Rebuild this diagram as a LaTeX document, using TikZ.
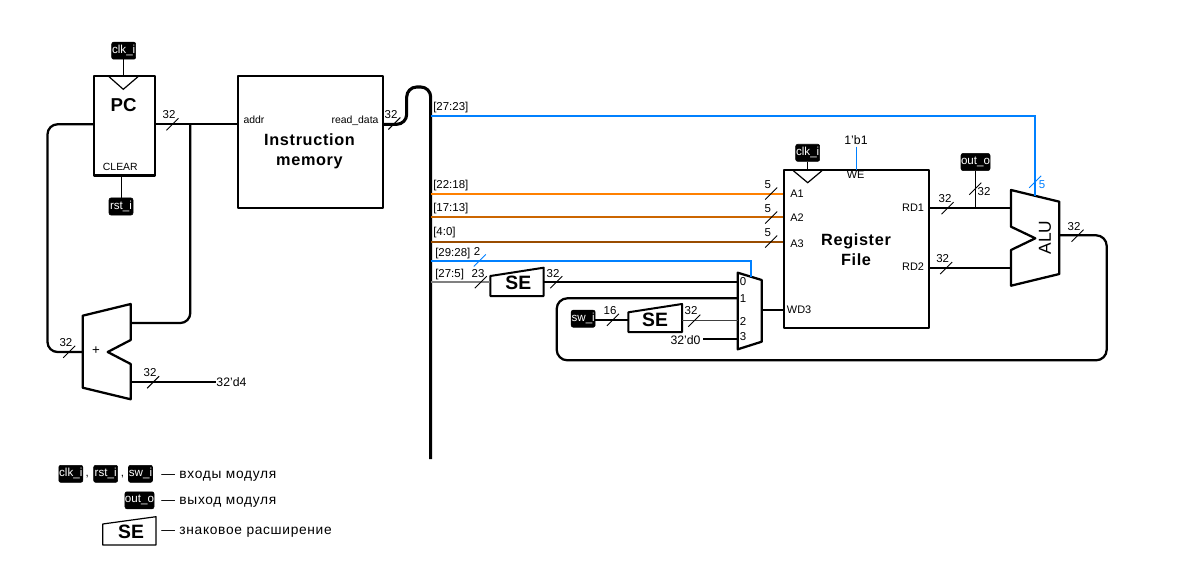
\documentclass[tikz,border=0pt]{standalone}
\usepackage{fontspec}
\setmainfont{Liberation Sans}
\newcommand{\fs}[1]{\fontsize{#1}{#1}\selectfont}
\newcommand{\tickm}[2]{\draw[slash] (#1-6,#2+6) -- (#1+6,#2-6);}
\newcommand{\tickb}[2]{\draw[slash,cblue] (#1-6,#2+6) -- (#1+6,#2-6);}
\definecolor{cblue}{HTML}{0080FF}
\definecolor{corA}{HTML}{FF8000}
\definecolor{corB}{HTML}{CC6600}
\definecolor{corC}{HTML}{994C00}
\definecolor{cgray}{HTML}{808080}
\tikzset{
  x=0.75pt,y=-0.75pt,
  wire/.style={line width=1.7pt,black},
  bus/.style={line width=2.3pt,black,rounded corners=7.5pt},
  thinw/.style={line width=0.75pt,black},
  slash/.style={line width=0.7pt,black},
  blk/.style={draw=black,line width=1.7pt,fill=white,line join=round},
  lbl/.style={inner sep=0pt,font=\fs{8.6},text=black,yshift=-0.5pt},
  pin/.style={inner sep=0pt,font=\fs{8.2}},
  tag/.style={fill=black,draw=black,rounded corners=1.5pt,text=white,inner sep=0pt,font=\fs{8.7},minimum height=12.8pt},
  title/.style={inner sep=0pt,font=\fs{12.2}\bfseries\addfontfeature{LetterSpace=4},align=center},
  setext/.style={inner sep=0pt,font=\fs{14.5}\bfseries},
  legend/.style={inner sep=0pt,font=\fs{10.3}\addfontfeature{LetterSpace=5},anchor=west,yshift=-1.5pt},
}
\begin{document}
\begin{tikzpicture}
\useasboundingbox (0,0) rectangle (1198,588);
\fill[white] (0,0) rectangle (1198,588);
% named levels
\coordinate (yPC) at (0,124.3);
\coordinate (yFB) at (0,352);
\coordinate (yAddB) at (0,323);
\coordinate (yFour) at (0,382.3);
\coordinate (xBus) at (430.7,0);
\coordinate (xJ) at (190.3,0);
% blocks
\node[blk,minimum width=45.5pt,minimum height=74.7pt,inner sep=0pt] (pc) at (124.3,125.8) {};
\node[blk,minimum width=108.3pt,minimum height=99pt,inner sep=0pt] (im) at (310.5,142.3) {};
\node[blk,minimum width=108.5pt,minimum height=119pt,inner sep=0pt] (rf) at (856.3,249) {};
\coordinate (rfA1) at (rf.west |- 0,193.7);
\coordinate (rfA2) at (rf.west |- 0,217.3);
\coordinate (rfA3) at (rf.west |- 0,241.7);
% tags
\node[tag,minimum width=18pt] (clkA) at (123.7,50.7) {clk\_i};
\node[tag,minimum width=18pt] (rstA) at (121,206.5) {rst\_i};
\node[tag,minimum width=18pt] (clkB) at (807.7,152.8) {clk\_i};
\node[tag,minimum width=21.7pt] (outA) at (975.5,162) {out\_o};
\node[tag,minimum width=18pt] (swA) at (583.2,318.7) {sw\_i};
% text-only endpoints
\node[lbl,font=\fs{9.2}] (d4) at (231.5,381.5) {32'd4};
\node[lbl,font=\fs{9.2}] (d0) at (685.5,339.2) {32'd0};
\node[lbl,font=\fs{9.2}] (b1) at (856,139.2) {1'b1};
% polygon blocks
\draw[blk] (82.7,315.7) coordinate (addA) -- (130.7,304) -- (130.7,340) -- (107.7,352) -- (130.7,364) -- (130.7,399.3) -- (82.7,387.7) -- cycle;
\coordinate (addR1) at (130.7,323);
\coordinate (addR2) at (130.7,382.3);
\coordinate (addL) at (82.7,352);
\draw[blk] (1011,190) -- (1059.3,201.7) -- (1059.3,274) -- (1011,285.7) -- (1011,250) -- (1035.3,238.3) -- (1011,226.7) -- cycle;
\coordinate (aluA) at (1011,208);
\coordinate (aluB) at (1011,268);
\coordinate (aluOut) at (1059.3,235.3);
\coordinate (aluTop) at (1035.3,195.7);
\draw[blk] (737.7,272.7) -- (761.7,280) -- (761.7,341.7) -- (737.7,349.3) -- cycle;
\coordinate (mux0) at (737.7,282.3);
\coordinate (mux1) at (737.7,298.3);
\coordinate (mux2) at (737.7,320.7);
\coordinate (mux3) at (737.7,338.7);
\coordinate (muxOut) at (761.7,309.7);
\coordinate (muxTop) at (751,276.7);
\draw[blk,line width=1.5pt] (490.3,276) -- (543.7,267.7) -- (543.7,296) -- (490.3,296) -- cycle;
\coordinate (seAin) at (490.3,282.3);
\coordinate (seAout) at (543.7,282.3);
\draw[blk,line width=1.5pt] (628.3,312.3) -- (682,304) -- (682,332) -- (628.3,332) -- cycle;
\coordinate (seBin) at (628.3,319.7);
\coordinate (seBout) at (682,320.7);
\draw[line width=0.9pt,black,line join=round] (102.7,524) -- (156,516.7) -- (156,545) -- (102.7,545) -- cycle;
% clock triangles
\draw[line width=0.9pt] (109,76.7) -- (123.3,89.3) -- (138,76.7);
\draw[line width=0.9pt] (793.3,170.7) -- (807.7,182.7) -- (822,170.7);
% connectors
\draw[thinw] (clkA.south) -- (clkA.south |- pc.north);
\draw[thinw] (rstA.north) -- (rstA.north |- pc.south);
\draw[thinw] (clkB.south) -- (clkB.south |- rf.north);
\draw[cblue,line width=0.85pt] (b1.south -| 856.3,0) ++(0,2) -- (856.3,169.7);
\draw[wire] (pc.east |- yPC) -- (im.west |- yPC);
\draw[wire,rounded corners=7.5pt] (pc.west |- yPC) -- (47.5,124.3) -- (47.5,352) -- (addL);
\draw[wire,rounded corners=7.5pt] (xJ |- yPC) -- (xJ |- yAddB) -- (addR1);
\draw[wire] (addR2) -- (d4.west |- addR2);
\draw[bus] (im.east |- yPC) -- (406.7,124.3) -- (406.7,87) -- (430.7,87) -- (430.7,459);
\draw[wire,cblue] (xBus |- 0,116.3) -- (1035.3,116.3) -- (aluTop);
\draw[wire,corA] (xBus |- rfA1) -- (rfA1);
\draw[wire,corB] (xBus |- rfA2) -- (rfA2);
\draw[wire,corC] (xBus |- rfA3) -- (rfA3);
\draw[wire,cblue] (xBus |- 0,261) -- (751,261) -- (muxTop);
\draw[wire,cgray] (xBus |- seAin) -- (seAin);
\draw[wire] (seAout) -- (mux0);
\draw[wire,rounded corners=8pt] (mux1) -- (556.7,298.3) -- (556.7,360.3) -- (1106.7,360.3) -- (1106.7,235.3) -- (aluOut);
\draw[wire] (swA.east |- seBin) -- (seBin);
\draw[line width=1pt,black!75] (seBout) -- (mux2);
\draw[wire] (703.3,338.7) -- (mux3);
\draw[wire] (muxOut) -- (rf.west |- muxOut);
\draw[wire] (rf.east |- aluA) -- (aluA);
\draw[wire] (rf.east |- aluB) -- (aluB);
\draw[thinw] (outA.south) -- (outA.south |- aluA);
% ticks
\tickm{172.5}{124.3}
\tickm{394.4}{123.5}
\tickm{69.2}{351.8}
\tickm{153.2}{382.2}
\tickm{771.2}{193.5}
\tickm{771.2}{217.5}
\tickm{771.2}{241.5}
\tickb{479.8}{260.5}
\tickm{480.8}{282.2}
\tickm{556.3}{282.2}
\tickm{613}{319.8}
\tickm{694.3}{320.7}
\tickm{947.5}{208.2}
\tickm{946.2}{268}
\tickm{975.2}{188.7}
\tickm{1077.5}{235.7}
\tickb{1035.2}{181.8}
% widths
\node[lbl] (w1) at (169,114) {32};
\node[lbl] (w2) at (391,114) {32};
\node[lbl] (w3) at (66,342) {32};
\node[lbl] (w4) at (150,372) {32};
\node[lbl] (w5) at (767.7,184) {5};
\node[lbl] (w6) at (767.7,208) {5};
\node[lbl] (w7) at (767.7,232) {5};
\node[lbl] (w8) at (477,251.3) {2};
\node[lbl] (w9) at (478,273) {23};
\node[lbl] (w10) at (553,273.3) {32};
\node[lbl] (w11) at (610,310) {16};
\node[lbl] (w12) at (691,310) {32};
\node[lbl] (w13) at (945,198.3) {32};
\node[lbl] (w14) at (942.7,258) {32};
\node[lbl] (w15) at (984,191) {32};
\node[lbl] (w16) at (1074,226) {32};
\node[lbl,text=cblue] (w17) at (1042,184) {5};
% bit ranges
\node[lbl,anchor=west] (r1) at (433,107.3) {[27:23]};
\node[lbl,anchor=west] (r2) at (433,184.7) {[22:18]};
\node[lbl,anchor=west] (r3) at (433,208.3) {[17:13]};
\node[lbl,anchor=west] (r4) at (433,232.3) {[4:0]};
\node[lbl,anchor=west] (r5) at (435,253) {[29:28]};
\node[lbl,anchor=west] (r6) at (435,274) {[27:5]};
% block labels
\node[inner sep=0pt,font=\fs{14}\bfseries] (pct) at (123.7,105) {PC};
\node[pin,font=\fs{7.8}] (clr) at (120.3,166.5) {CLEAR};
\node[title] (imt) at (309.5,151.5) {Instruction\\[3pt]memory};
\node[pin,anchor=west,font=\fs{7.8}] (addr) at (243.3,120) {addr};
\node[pin,anchor=east,font=\fs{7.8}] (rdata) at (378.7,121) {read\_data};
\node[inner sep=0pt,font=\fs{10}] (plus) at (96,351) {+};
\node[setext] (se1) at (518.3,282.7) {SE};
\node[setext] (se2) at (655,319.7) {SE};
\node[pin,font=\fs{8.6}] (m0) at (743,281.3) {0};
\node[pin,font=\fs{8.6}] (m1) at (743,298.3) {1};
\node[pin,font=\fs{8.6}] (m2) at (743,321) {2};
\node[pin,font=\fs{8.6}] (m3) at (743,337) {3};
\node[pin,anchor=west] (a1) at (790,193.3) {A1};
\node[pin,anchor=west] (a2) at (790,217.3) {A2};
\node[pin,anchor=west] (a3) at (790,243.3) {A3};
\node[pin,anchor=west] (wd) at (786.7,309.7) {WD3};
\node[pin] (we) at (855.7,175) {WE};
\node[pin,anchor=east] (rd1) at (924.3,208) {RD1};
\node[pin,anchor=east] (rd2) at (924.3,267) {RD2};
\node[title] (rft) at (856,250) {Register\\[3pt]File};
\node[inner sep=0pt,font=\fs{13},rotate=90] (alut) at (1045,237.7) {ALU};
% legend
\node[tag,minimum width=18pt] (lc) at (70.8,473.8) {clk\_i};
\node[lbl] (c1) at (87.3,476) {,};
\node[tag,minimum width=18pt] (lr) at (105.7,473.8) {rst\_i};
\node[lbl] (c2) at (122.5,476) {,};
\node[tag,minimum width=18pt] (ls) at (140.5,473.8) {sw\_i};
\node[tag,minimum width=21.7pt] (lo) at (139.5,500.3) {out\_o};
\node[setext] (lse) at (131,531.5) {SE};
\node[legend] (t1) at (161,474.5) {— входы модуля};
\node[legend] (t2) at (161,500.5) {— выход модуля};
\node[legend] (t3) at (161,530) {— знаковое расширение};
\end{tikzpicture}
\end{document}
